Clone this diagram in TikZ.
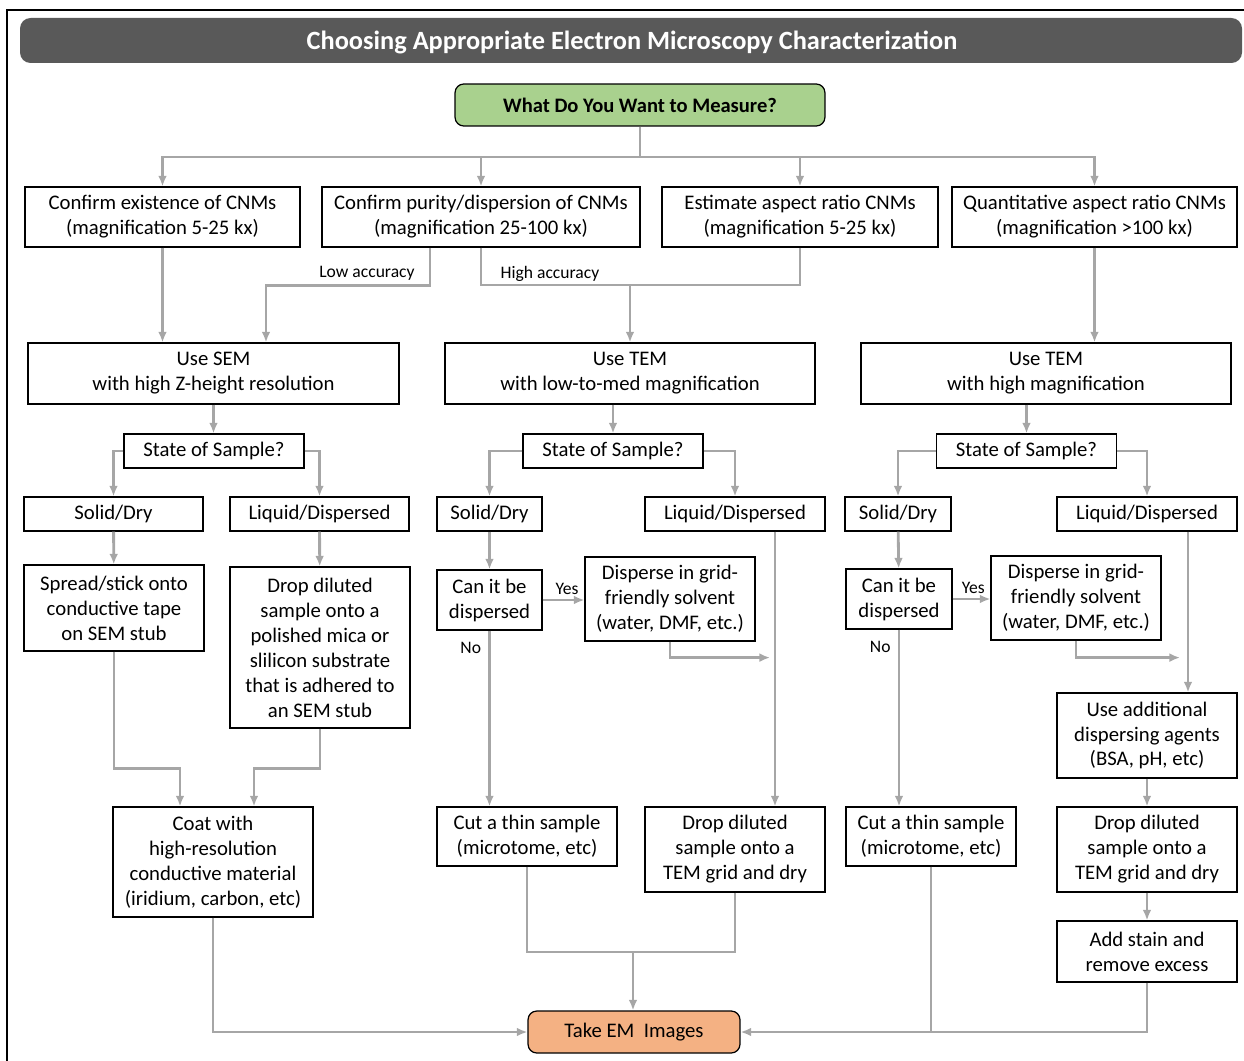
\documentclass[tikz,border=0pt]{standalone}
\usepackage{fontspec}
\setmainfont{Carlito}
\usetikzlibrary{arrows.meta}

\definecolor{titlegray}{HTML}{595959}
\definecolor{measgreen}{HTML}{A9D18E}
\definecolor{takeorange}{HTML}{F4B183}
\definecolor{arrowgray}{HTML}{A6A6A6}

\begin{document}
\begin{tikzpicture}[x=0.02cm,y=-0.02cm,>={Latex[length=6pt,width=5pt]},
   box/.style={draw=black,line width=0.7pt,align=center,inner sep=0pt,font=\fontsize{11.8}{14.2}\selectfont},
   arr/.style={draw=arrowgray,line width=1.6pt,->},
   conn/.style={draw=arrowgray,line width=1.6pt},
   lbl/.style={font=\fontsize{10}{12}\selectfont,inner sep=2pt}]
   \useasboundingbox (0,0) rectangle (1244,1061);
   \draw[line width=0.8pt] (7,1061) -- (7,10) -- (1244,10);
   \fill[titlegray,rounded corners=6pt] (20,18) rectangle (1242,63);
   \node[text=white,font=\bfseries\fontsize{15}{18}\selectfont] (title) at (632,42) {Choosing Appropriate Electron Microscopy Characterization};

   % question and the four goals
   \node[box,fill=measgreen,rounded corners=5pt,minimum width=7.4cm,minimum height=0.84cm,font=\bfseries\fontsize{11.7}{14}\selectfont] (what) at (640,105) {What Do You Want to Measure?};
   \node[box,minimum width=5.5cm,minimum height=1.2cm] (exist) at (162.5,217) {Confirm existence of CNMs\\(magnification 5-25 kx)};
   \node[box,minimum width=6.36cm,minimum height=1.2cm] (purity) at (481,217) {Confirm purity/dispersion of CNMs\\(magnification 25-100 kx)};
   \node[box,minimum width=5.52cm,minimum height=1.2cm] (estim) at (800,217) {Estimate aspect ratio CNMs\\(magnification 5-25 kx)};
   \node[box,minimum width=5.7cm,minimum height=1.2cm] (quant) at (1094.5,217) {Quantitative aspect ratio CNMs\\(magnification >100 kx)};

   % microscopes
   \node[box,minimum width=7.42cm,minimum height=1.22cm] (sem) at (213.5,373.5) {Use SEM\\with high Z-height resolution};
   \node[box,minimum width=7.4cm,minimum height=1.22cm] (temlow) at (630,373.5) {Use TEM\\with low-to-med magnification};
   \node[box,minimum width=7.4cm,minimum height=1.22cm] (temhigh) at (1046,373.5) {Use TEM\\with high magnification};

   \node[box,minimum width=3.6cm,minimum height=0.68cm] (state1) at (214,451) {State of Sample?};
   \node[box,minimum width=3.6cm,minimum height=0.68cm] (state2) at (613,451) {State of Sample?};
   \node[box,minimum width=3.6cm,minimum height=0.68cm] (state3) at (1026.5,451) {State of Sample?};

   \node[box,minimum width=3.58cm,minimum height=0.68cm] (solid1) at (113.5,514) {Solid/Dry};
   \node[box,minimum width=3.58cm,minimum height=0.68cm] (liquid1) at (319.5,514) {Liquid/Dispersed};
   \node[box,minimum width=2.1cm,minimum height=0.68cm] (solid2) at (489.5,514) {Solid/Dry};
   \node[box,minimum width=3.6cm,minimum height=0.68cm] (liquid2) at (735,514) {Liquid/Dispersed};
   \node[box,minimum width=2.12cm,minimum height=0.68cm] (solid3) at (898,514) {Solid/Dry};
   \node[box,minimum width=3.6cm,minimum height=0.68cm] (liquid3) at (1147,514) {Liquid/Dispersed};

   % SEM column
   \node[box,minimum width=3.6cm,minimum height=1.72cm] (spread) at (114,608) {Spread/stick onto\\conductive tape\\on SEM stub};
   \node[box,minimum width=3.6cm,minimum height=3.22cm] (dropsem) at (320,647.5) {Drop diluted\\sample onto a\\polished mica or\\slilicon substrate\\that is adhered to\\an SEM stub};
   \node[box,minimum width=4cm,minimum height=2.2cm] (coat) at (213,862) {Coat with\\high-resolution\\conductive material\\(iridium, carbon, etc)};

   % TEM low column
   \node[box,minimum width=2.1cm,minimum height=1.2cm] (can2) at (489.5,600) {Can it be\\dispersed};
   \node[box,minimum width=3.4cm,minimum height=1.68cm] (disp2) at (670,599) {Disperse in grid-\\friendly solvent\\(water, DMF, etc.)};
   \node[box,minimum width=3.6cm,minimum height=1.18cm] (cut2) at (527,836.5) {Cut a thin sample\\(microtome, etc)};
   \node[box,minimum width=3.6cm,minimum height=1.7cm] (drop2) at (735,849.5) {Drop diluted\\sample onto a\\TEM grid and dry};

   % TEM high column
   \node[box,minimum width=2.12cm,minimum height=1.2cm] (can3) at (899,599) {Can it be\\dispersed};
   \node[box,minimum width=3.4cm,minimum height=1.68cm] (disp3) at (1076,598) {Disperse in grid-\\friendly solvent\\(water, DMF, etc.)};
   \node[box,minimum width=3.4cm,minimum height=1.18cm] (cut3) at (931,836.5) {Cut a thin sample\\(microtome, etc)};
   \node[box,minimum width=3.6cm,minimum height=1.7cm] (agents) at (1147,735.5) {Use additional\\dispersing agents\\(BSA, pH, etc)};
   \node[box,minimum width=3.6cm,minimum height=1.7cm] (drop3) at (1147,849.5) {Drop diluted\\sample onto a\\TEM grid and dry};
   \node[box,minimum width=3.6cm,minimum height=1.22cm] (stain) at (1147,951.5) {Add stain and\\remove excess};

   \node[box,fill=takeorange,rounded corners=5pt,minimum width=4.24cm,minimum height=0.84cm] (take) at (634,1032) {Take EM~~Images};

   % connectors
   \coordinate (split) at (640,157);
   \draw[conn] (what.south) -- (split);
   \draw[arr] (split) -| (exist.north);
   \draw[arr] (split) -| (purity.north);
   \draw[arr] (split) -| (estim.north);
   \draw[arr] (split) -| (quant.north);

   \draw[arr] (exist.south) -- (exist.south |- sem.north);
   \draw[arr] ([xshift=-1.02cm]purity.south) -- ++(0,38) node[lbl,anchor=south east,xshift=-6pt] (lowacc) {Low accuracy} -| ([xshift=1.05cm]sem.north);
   \coordinate (hacc) at (630,285);
   \draw[conn] (purity.south) |- (hacc);
   \draw[conn] (estim.south) |- (hacc);
   \node[lbl,anchor=south west,xshift=9pt] (highacc) at (purity.south |- hacc) {High accuracy};
   \draw[arr] (hacc) -- (temlow.north);
   \draw[arr] (quant.south) -- (quant.south |- temhigh.north);

   \draw[arr] (sem.south) -- (sem.south |- state1.north);
   \draw[arr] (state2.north |- temlow.south) -- (state2.north);
   \draw[arr] (state3.north |- temhigh.south) -- (state3.north);

   \draw[arr] (state1.west) -| (solid1.north);
   \draw[arr] (state1.east) -| (liquid1.north);
   \draw[arr] (state2.west) -| (solid2.north);
   \draw[arr] (state2.east) -| (liquid2.north);
   \draw[arr] (state3.west) -| (solid3.north);
   \draw[arr] (state3.east) -| (liquid3.north);

   \draw[arr] (solid1) -- (spread);
   \draw[arr] (liquid1) -- (dropsem);
   \draw[arr] (spread.south) -- ++(0,117) -| ([xshift=-0.66cm]coat.north);
   \draw[arr] (dropsem.south) -- ++(0,40) -| ([xshift=0.82cm]coat.north);
   \draw[arr] (coat.south) |- (take.west);

   \draw[arr] (solid2) -- (can2);
   \draw[arr] (can2.east) -- (can2.east -| disp2.west) node[lbl,midway,above,xshift=2pt] (yes2) {Yes};
   \draw[arr] (disp2.south) |- ++(100,16);
   \draw[arr] ([xshift=0.8cm]liquid2.south) -- ([xshift=0.8cm]drop2.north);
   \draw[arr] (can2.south) node[lbl,anchor=north east,xshift=-2pt,yshift=-4pt] (no2) {No} -- (can2.south |- cut2.north);
   \coordinate (merge2) at (633,952);
   \draw[conn] (cut2.south) |- (merge2);
   \draw[conn] (drop2.south) |- (merge2);
   \draw[arr] (merge2) -- (merge2 |- take.north);

   \draw[arr] (solid3) -- (can3);
   \draw[arr] (can3.east) -- (can3.east -| disp3.west) node[lbl,midway,above,xshift=1pt] (yes3) {Yes};
   \draw[arr] (disp3.south) |- ++(104,17);
   \draw[arr] ([xshift=0.82cm]liquid3.south) -- ([xshift=0.82cm]agents.north);
   \draw[arr] (agents) -- (drop3);
   \draw[arr] (drop3) -- (stain);
   \draw[arr] (can3.south) node[lbl,anchor=north east,xshift=-2pt,yshift=-4pt] (no3) {No} -- (can3.south |- cut3.north);
   \draw[conn] (cut3.south) -- (cut3.south |- take.east);
   \draw[arr] (stain.south) |- (take.east);
\end{tikzpicture}
\end{document}
